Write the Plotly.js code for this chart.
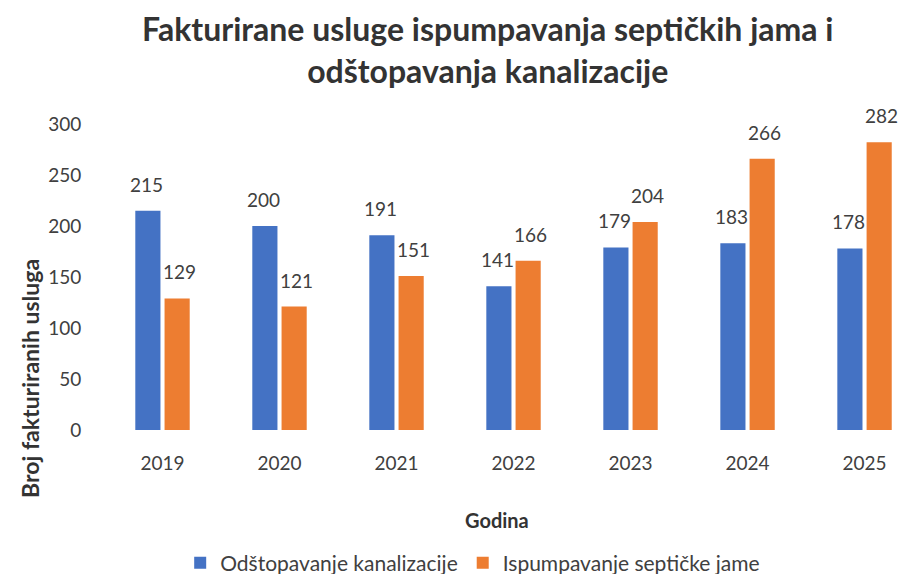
<!DOCTYPE html>
<html>
<head>
<meta charset="utf-8">
<script src="https://cdn.plot.ly/plotly-3.0.1.min.js"></script>
<style>
  html, body { margin: 0; padding: 0; background: #fff; }
  #chart { width: 909px; height: 574px; }
</style>
</head>
<body>
<div id="chart"></div>
<script>
const years = ["2019", "2020", "2021", "2022", "2023", "2024", "2025"];
const odstopavanje = [215, 200, 191, 141, 179, 183, 178];
const ispumpavanje = [129, 121, 151, 166, 204, 266, 282];
const yTicks = [0, 50, 100, 150, 200, 250, 300];

const FONT = "Lato, 'Open Sans', sans-serif";
const textColor = "#404040";
const titleColor = "#333333";

// offset of each bar centre from its category centre, in category units
const barOffset = 0.141;

const traces = [
    {
        type: "bar",
        name: "Odštopavanje kanalizacije",
        x: years,
        y: odstopavanje,
        marker: { color: "#4472C4" },
        hoverinfo: "x+y+name",
    },
    {
        type: "bar",
        name: "Ispumpavanje septičke jame",
        x: years,
        y: ispumpavanje,
        marker: { color: "#ED7D31" },
        hoverinfo: "x+y+name",
    },
];

// value labels above the bars
const labelAnnotations = [];
[odstopavanje, ispumpavanje].forEach((series, s) => {
    series.forEach((v, i) => {
        labelAnnotations.push({
            x: i + (s === 0 ? -barOffset : barOffset),
            y: v,
            xref: "x",
            yref: "y",
            text: String(v),
            showarrow: false,
            yanchor: "bottom",
            yshift: 13,
            font: { family: FONT, size: 19, color: textColor },
        });
    });
});

const layout = {
    width: 909,
    height: 574,
    paper_bgcolor: "#ffffff",
    plot_bgcolor: "#ffffff",
    font: { family: FONT, color: textColor },
    margin: { l: 104, r: 0, t: 124, b: 144 },
    barmode: "group",
    bargap: 0.5,
    bargroupgap: 0.14,
    showlegend: true,
    legend: {
        orientation: "h",
        xref: "paper",
        x: 0.458,
        xanchor: "center",
        yref: "container",
        y: 0.019,
        yanchor: "middle",
        font: { family: FONT, size: 21, color: textColor },
    },
    xaxis: {
        type: "category",
        range: [-0.5, 6.38],
        automargin: false,
        showgrid: false,
        showline: false,
        zeroline: false,
        ticks: "outside",
        ticklen: 16,
        tickcolor: "rgba(0,0,0,0)",
        tickfont: { family: FONT, size: 19, color: textColor },
    },
    yaxis: {
        range: [0, 300],
        tickvals: yTicks,
        automargin: false,
        showgrid: false,
        zeroline: false,
        showline: false,
        ticks: "outside",
        ticklen: 18,
        tickcolor: "rgba(0,0,0,0)",
        tickfont: { family: FONT, size: 19, color: textColor },
    },
    annotations: [
        {
            text: "<b>Fakturirane usluge ispumpavanja septičkih jama i<br>odštopavanja kanalizacije</b>",
            xref: "paper", yref: "paper",
            x: 0.477, y: 1.242,
            xanchor: "center", yanchor: "middle",
            showarrow: false,
            font: { family: FONT, size: 32, color: titleColor },
        },
        {
            text: "<b>Broj fakturiranih usluga</b>",
            xref: "paper", yref: "paper",
            x: -0.092, y: 0.17,
            xanchor: "center", yanchor: "middle",
            textangle: -90,
            showarrow: false,
            font: { family: FONT, size: 23, color: titleColor },
        },
        {
            text: "<b>Godina</b>",
            xref: "paper", yref: "paper",
            x: 0.488, y: -0.294,
            xanchor: "center", yanchor: "middle",
            showarrow: false,
            font: { family: FONT, size: 20, color: titleColor },
        },
    ].concat(labelAnnotations),
};

Plotly.newPlot("chart", traces, layout, { displayModeBar: false });
</script>
</body>
</html>
